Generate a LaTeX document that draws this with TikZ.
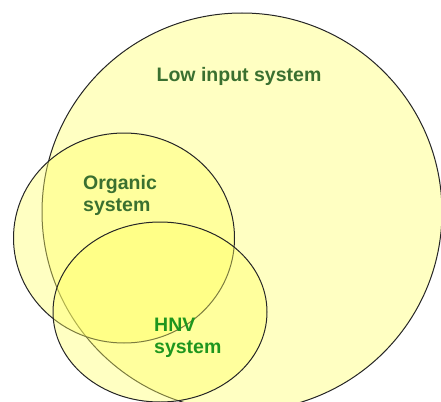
\documentclass[tikz,border=0pt]{standalone}
\usepackage{fontspec}
\setmainfont{Liberation Sans}
\usetikzlibrary{shapes.geometric}

\definecolor{setfill}{HTML}{FFFF66}
\definecolor{darkgreen}{HTML}{3A7030}
\definecolor{hnvgreen}{HTML}{1E961E}

\tikzset{
  setellipse/.style={ellipse, draw=black!85, line width=1pt, fill=setfill,
    fill opacity=0.4, inner sep=0pt},
  setlabel/.style={font=\bfseries\fontsize{19.5}{22}\selectfont, inner sep=0pt,
    align=left, anchor=base west}
}

\begin{document}
\begin{tikzpicture}[x=1pt, y=-1pt]
    \useasboundingbox (0,0) rectangle (441,401);

    % Draw sets
    \node[setellipse, minimum width=400pt, minimum height=398pt] (low) at (242, 212) {};
    \node[setellipse, minimum width=221pt, minimum height=210pt] (organic) at (124, 238) {};
    \node[setellipse, minimum width=214pt, minimum height=180pt] (hnv) at (160, 312) {};

    % Draw labels
    \node[setlabel, text=darkgreen, anchor=base] (lowlabel) at (239, 82) {Low input system};
    \node[setlabel, text=darkgreen] (organiclabel) at (83, 211) {Organic\\system};
    \node[setlabel, text=hnvgreen] (hnvlabel) at (154, 353) {HNV\\system};
\end{tikzpicture}
\end{document}
